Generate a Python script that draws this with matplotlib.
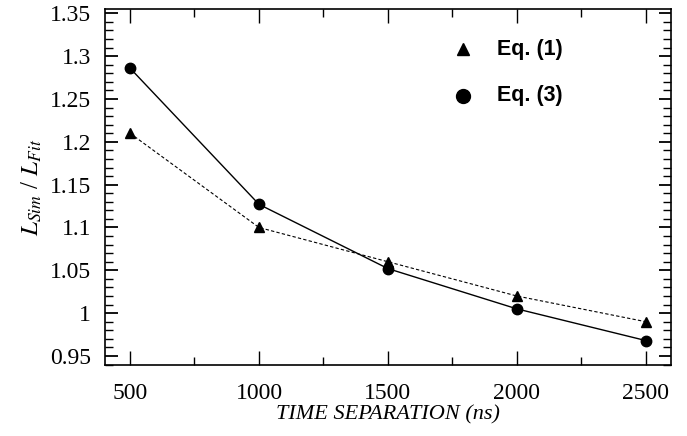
import matplotlib
matplotlib.use('Agg')
import matplotlib.pyplot as plt
from matplotlib.ticker import MultipleLocator

# time separation (ns) and ratio L_Sim / L_Fit
t_sep = [500, 1000, 1500, 2000, 2500]
eq1 = [1.21, 1.10, 1.06, 1.02, 0.99]
eq3 = [1.286, 1.127, 1.052, 1.005, 0.968]
yticks = [0.95, 1.0, 1.05, 1.1, 1.15, 1.2, 1.25, 1.3, 1.35]
ytick_labels = ['0.95', '1', '1.05', '1.1', '1.15', '1.2', '1.25', '1.3', '1.35']

plt.rcParams['font.family'] = ['Liberation Serif', 'DejaVu Serif']
plt.rcParams['mathtext.fontset'] = 'stix'

fig = plt.figure(figsize=(6.87, 4.36), dpi=100)
ax = fig.add_axes([0.1528, 0.1628, 0.8239, 0.8166])

ax.plot(t_sep, eq1, 'k--', lw=0.8, dashes=(3, 2))
ax.plot(t_sep, eq3, 'k-', lw=1.0)
ax.plot(t_sep, eq1, 'k^', ms=7, ls='none')
ax.plot(t_sep, eq3, 'ko', ms=7.5, ls='none')

ax.set_xlim(403, 2597)
ax.set_ylim(0.9395, 1.355)
ax.set_xticks(t_sep)
ax.xaxis.set_minor_locator(MultipleLocator(250))
ax.set_yticks(yticks)
ax.set_yticklabels(ytick_labels)
ax.yaxis.set_minor_locator(MultipleLocator(0.01))
ax.tick_params(which='both', direction='in', top=True, right=True, labelsize=17, colors='k')
ax.tick_params(axis='x', which='major', length=10, width=1, pad=13)
ax.tick_params(axis='x', which='minor', length=6, width=1)
ax.tick_params(axis='y', which='major', length=9, width=1.3, pad=10)
ax.tick_params(axis='y', which='minor', length=6, width=1)
for s in ax.spines.values():
    s.set_linewidth(1.2)

ax.set_xlabel('TIME SEPARATION (ns)', fontsize=16, style='italic', labelpad=1)
ax.set_ylabel(r'$L_{Sim}$ / $L_{Fit}$', fontsize=18, labelpad=4)

# legend drawn by hand
ax.plot([1791], [1.308], 'k^', ms=9)
ax.plot([1791], [1.254], 'ko', ms=10)
ax.text(1922, 1.308, 'Eq. (1)', fontsize=15.5, fontweight='bold', family='Liberation Sans', va='center')
ax.text(1922, 1.254, 'Eq. (3)', fontsize=15.5, fontweight='bold', family='Liberation Sans', va='center')

fig.savefig('out.png', dpi=100)
